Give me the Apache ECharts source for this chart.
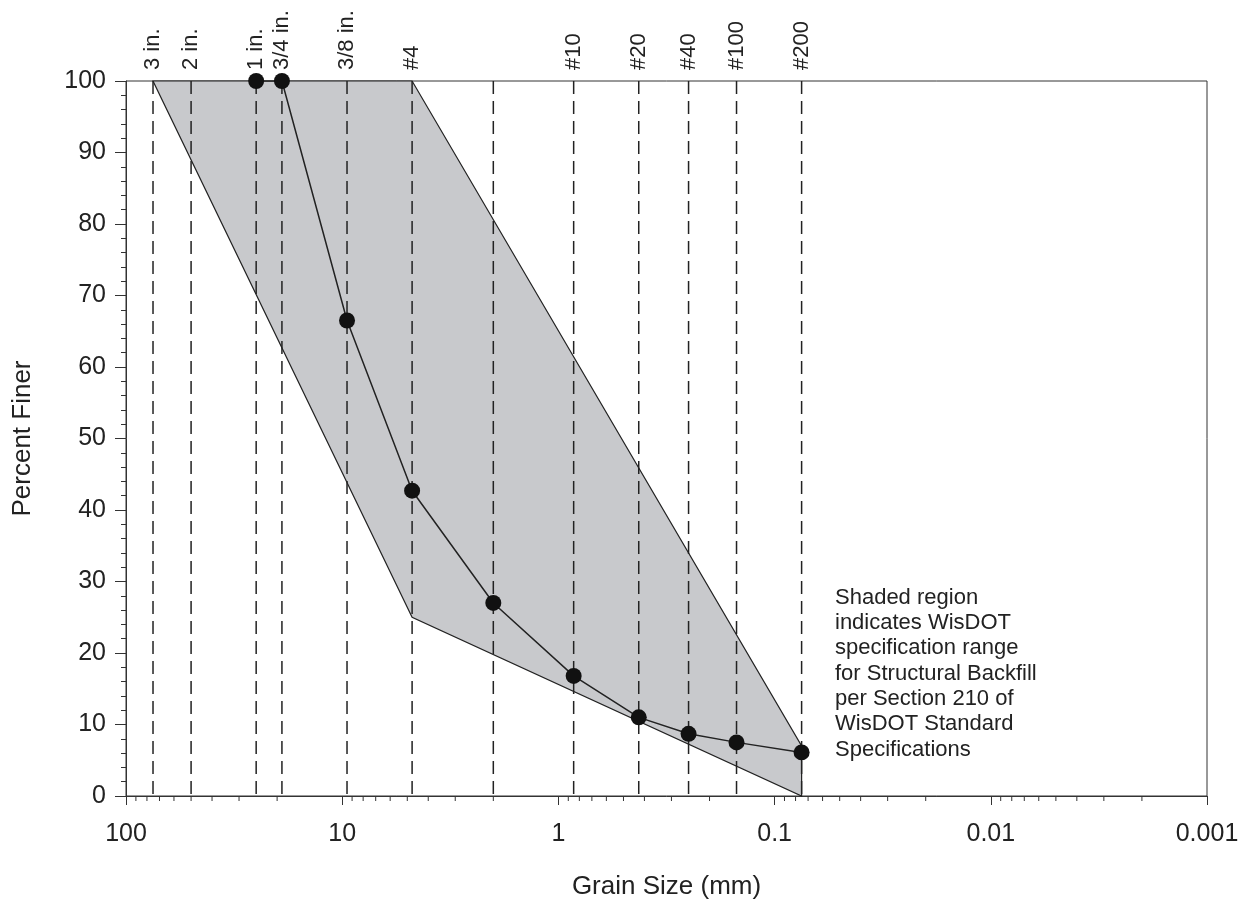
<!DOCTYPE html>
<html>
<head>
<meta charset="UTF-8">
<title>Grain Size Distribution</title>
<script src="https://cdn.jsdelivr.net/npm/echarts@6.0.0/dist/echarts.min.js"></script>
<style>
    html, body { margin: 0; padding: 0; background: #fff; }
    #main { width: 1250px; height: 905px; }
</style>
</head>
<body>
<div id="main"></div>
<script>
// sieve openings (mm) and the labels printed above them
var sieveSizes  = [75, 50, 25, 19, 9.5, 4.75, 2.0, 0.85, 0.425, 0.25, 0.15, 0.075];
var sieveLabels = ['3 in.', '2 in.', '1 in.', '3/4 in.', '3/8 in.', '#4', '', '#10', '#20', '#40', '#100', '#200'];

// measured gradation
var sampleSizes   = [25, 19, 9.5, 4.75, 2.0, 0.85, 0.425, 0.25, 0.15, 0.075];
var samplePercent = [100, 100, 66.5, 42.7, 27, 16.8, 11, 8.7, 7.5, 6.1];

// WisDOT structural backfill envelope
var specUpperSizes = [75, 4.75, 0.075];
var specUpper      = [100, 100, 7];
var specLowerSizes = [75, 4.75, 0.075];
var specLower      = [100, 25, 0];

var note = ['Shaded region', 'indicates WisDOT', 'specification range',
            'for Structural Backfill', 'per Section 210 of', 'WisDOT Standard', 'Specifications'];

// minor ticks of the log axis (2..9 in every decade)
var minorTicks = [];
[0.001, 0.01, 0.1, 1, 10].forEach(function (d) {
    for (var k = 2; k <= 9; k++) minorTicks.push(+(k * d).toPrecision(2));
});

var FONT = 'Liberation Sans, Arial, sans-serif';
var INK = '#222';

var chart = echarts.init(document.getElementById('main'));

var option = {
    animation: false,
    backgroundColor: '#fff',
    grid: { left: 126, right: 43, top: 81, bottom: 107, show: true, borderColor: '#333', borderWidth: 1 },
    xAxis: {
        type: 'log', logBase: 10, min: 0.001, max: 100, inverse: true, splitNumber: 5,
        name: 'Grain Size (mm)', nameLocation: 'middle', nameGap: 78,
        nameTextStyle: { fontFamily: FONT, fontSize: 26, color: INK },
        axisLine: { lineStyle: { color: '#333', width: 1 } },
        axisTick: { show: true, length: 9, lineStyle: { color: '#333' } },
        axisLabel: {
            margin: 26, fontFamily: FONT, fontSize: 25, color: INK,
            formatter: function (v) { return String(+(+v).toPrecision(1)); }
        },
        splitLine: { show: false }
    },
    yAxis: {
        type: 'value', min: 0, max: 100, interval: 10,
        name: 'Percent Finer', nameLocation: 'middle', nameGap: 90,
        nameTextStyle: { fontFamily: FONT, fontSize: 26, color: INK },
        axisLine: { show: true, lineStyle: { color: '#333', width: 1 } },
        axisTick: { show: true, length: 11, lineStyle: { color: '#333' } },
        minorTick: { show: true, splitNumber: 5, length: 5, lineStyle: { color: '#333' } },
        axisLabel: { margin: 20, fontFamily: FONT, fontSize: 25, color: INK },
        splitLine: { show: false }
    },
    graphic: [{
        type: 'text', left: 835, top: 585, z: 100,
        style: { text: note.join('\n'), font: '22px ' + FONT, fill: INK, lineHeight: 25.3 }
    }],
    series: [
        {   // shaded spec envelope
            type: 'custom', z: 1, clip: false,
            data: [0],
            renderItem: function (params, api) {
                var pts = [];
                for (var i = 0; i < specUpperSizes.length; i++) pts.push(api.coord([specUpperSizes[i], specUpper[i]]));
                for (var j = specLowerSizes.length - 1; j >= 0; j--) pts.push(api.coord([specLowerSizes[j], specLower[j]]));
                return {
                    type: 'polygon',
                    shape: { points: pts },
                    style: { fill: '#c8c9cc', stroke: INK, lineWidth: 1.2 }
                };
            }
        },
        {   // sieve lines and labels
            type: 'custom', z: 2, clip: false,
            data: sieveSizes.map(function (s, i) { return [s, i]; }),
            renderItem: function (params, api) {
                var s = api.value(0);
                var lbl = sieveLabels[api.value(1)];
                var top = api.coord([s, 100]);
                var bot = api.coord([s, 0]);
                return {
                    type: 'group',
                    children: [{
                        type: 'line',
                        shape: { x1: top[0], y1: top[1], x2: bot[0], y2: bot[1] },
                        style: { stroke: INK, lineWidth: 1.5, lineDash: [13, 7] }
                    }, {
                        type: 'text',
                        x: top[0], y: top[1] - 11, rotation: Math.PI / 2,
                        style: { text: lbl, font: '22px ' + FONT, fill: INK, align: 'left', verticalAlign: 'middle' }
                    }]
                };
            }
        },
        {   // log minor ticks under the x axis
            type: 'custom', z: 3, clip: false, silent: true,
            data: minorTicks,
            renderItem: function (params, api) {
                var p = api.coord([api.value(0), 0]);
                return {
                    type: 'line',
                    shape: { x1: p[0], y1: p[1], x2: p[0], y2: p[1] + 5 },
                    style: { stroke: '#333', lineWidth: 1 }
                };
            }
        },
        {   // sample gradation
            type: 'line', z: 5,
            data: sampleSizes.map(function (s, i) { return [s, samplePercent[i]]; }),
            symbol: 'circle', symbolSize: 16,
            itemStyle: { color: '#111' },
            lineStyle: { color: INK, width: 1.5 }
        }
    ]
};

chart.setOption(option);
</script>
</body>
</html>
